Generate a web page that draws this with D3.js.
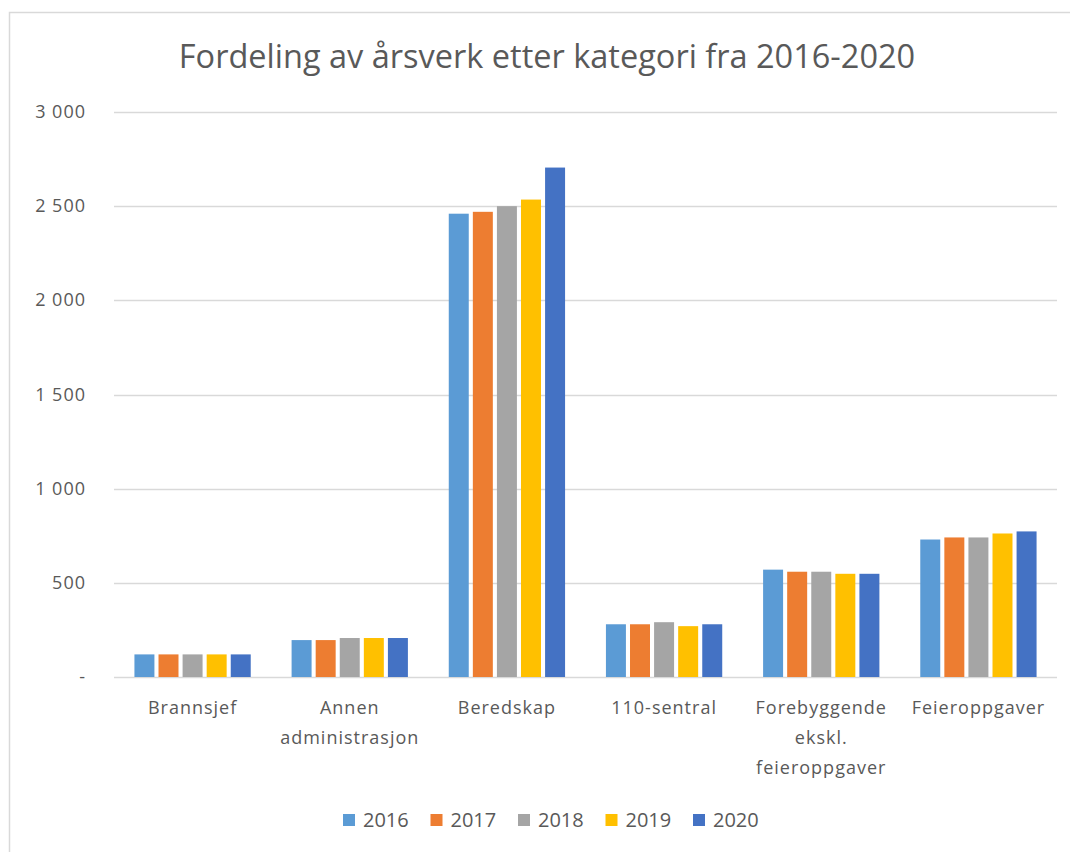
<!DOCTYPE html>
<head>
    <script src="https://d3js.org/d3.v7.min.js"></script>
</head>
<body style="margin:0; background:#fff">
    <svg width="1070" height="852"></svg>
    <script>
        var categories = [["Brannsjef"], ["Annen", "administrasjon"], ["Beredskap"], ["110-sentral"], ["Forebyggende", "ekskl.", "feieroppgaver"], ["Feieroppgaver"]];
        var years = ["2016", "2017", "2018", "2019", "2020"];
        var v2016 = [120, 196, 2460, 280, 570, 730];
        var v2017 = [120, 196, 2470, 280, 559, 741];
        var v2018 = [120, 207, 2500, 291, 559, 741];
        var v2019 = [120, 207, 2535, 270, 548, 762];
        var v2020 = [120, 207, 2705, 280, 548, 773];
        var series = [v2016, v2017, v2018, v2019, v2020];
        var colors = ["#5B9BD5", "#ED7D31", "#A5A5A5", "#FFC000", "#4472C4"];
        var yTicks = [0, 500, 1000, 1500, 2000, 2500, 3000];

        var FONT = "'Open Sans', sans-serif";
        var svg = d3.select("svg");

        // chart frame (only top/left visible in the crop)
        svg.append("rect")
            .attr("x", 9.5).attr("y", 12.5)
            .attr("width", 1100).attr("height", 900)
            .style("fill", "none").style("stroke", "#d9d9d9").style("stroke-width", 1.5);

        svg.append("text")
            .attr("x", 547).attr("y", 68)
            .attr("text-anchor", "middle")
            .style("font-family", FONT).style("font-size", "32.5px")
            .style("fill", "#595959")
            .text("Fordeling av årsverk etter kategori fra 2016-2020");

        var x0 = d3.scaleBand().domain(d3.range(categories.length)).range([114, 1057]).paddingInner(0.26).paddingOuter(0.13);
        var x1 = d3.scaleBand().domain(years).range([0, x0.bandwidth()]).paddingInner(0.17);
        var y = d3.scaleLinear().domain([0, 3000]).range([677, 112]);

        var fmt = function(d) {
            return d === 0 ? "-" : d3.format(",")(d).replace(",", " ");
        };

        svg.append("g")
            .selectAll("line")
            .data(yTicks)
            .enter().append("line")
            .attr("x1", 114).attr("x2", 1057)
            .attr("y1", function(d) { return Math.round(y(d)) + 0.5; })
            .attr("y2", function(d) { return Math.round(y(d)) + 0.5; })
            .style("stroke", "#d9d9d9").style("stroke-width", 1.5);

        svg.append("g")
            .selectAll("text")
            .data(yTicks)
            .enter().append("text")
            .attr("x", 86).attr("y", function(d) { return y(d) + 6; })
            .attr("text-anchor", "end")
            .style("font-family", FONT).style("font-size", "18px").style("letter-spacing", "1px").style("fill", "#595959")
            .text(fmt);

        series.forEach(function(vals, si) {
            svg.append("g")
                .selectAll("rect")
                .data(vals)
                .enter().append("rect")
                .attr("x", function(d, i) { return x0(i) + x1(years[si]); })
                .attr("y", function(d) { return y(d); })
                .attr("width", x1.bandwidth())
                .attr("height", function(d) { return y(0) - y(d); })
                .style("fill", colors[si]);
        });

        var labels = svg.append("g")
            .selectAll("text")
            .data(categories)
            .enter().append("text")
            .attr("text-anchor", "middle")
            .style("font-family", FONT).style("font-size", "18px").style("letter-spacing", "1px").style("fill", "#595959");
        labels.each(function(lines, i) {
            var t = d3.select(this);
            lines.forEach(function(l, j) {
                t.append("tspan")
                    .attr("x", x0(i) + x0.bandwidth() / 2)
                    .attr("y", 714 + j * 30)
                    .text(l);
            });
        });

        var legend = svg.append("g")
            .selectAll("g")
            .data(years)
            .enter().append("g")
            .attr("transform", function(d, i) { return "translate(" + (343 + i * 87.5) + ",820)"; });
        legend.append("rect")
            .attr("x", 0).attr("y", -6).attr("width", 12).attr("height", 12)
            .style("fill", function(d, i) { return colors[i]; });
        legend.append("text")
            .attr("x", 20).attr("y", 7)
            .style("font-family", FONT).style("font-size", "20px").style("fill", "#595959")
            .text(function(d) { return d; });
    </script>
</body>
